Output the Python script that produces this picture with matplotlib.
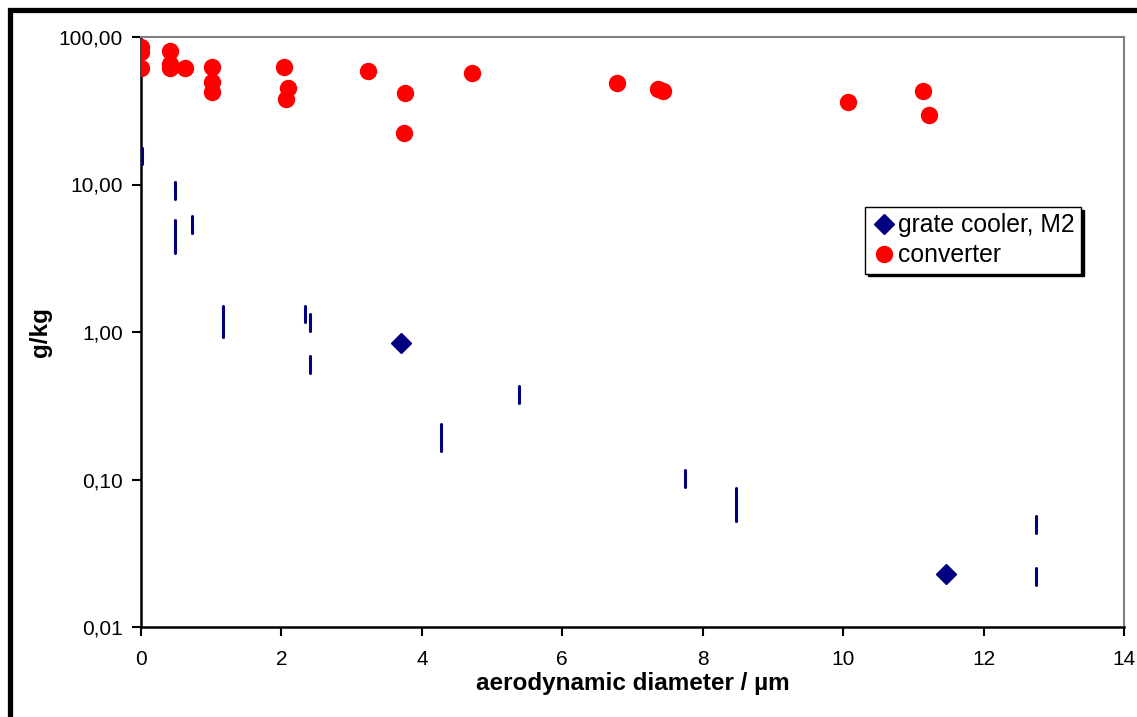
import numpy as np
import matplotlib
matplotlib.use('Agg')
from matplotlib import pyplot as plt
from matplotlib.ticker import FuncFormatter, NullLocator
from matplotlib.patches import Rectangle

plt.rcParams['font.family'] = ['Liberation Sans', 'DejaVu Sans']

# converter (red circles)
conv_x = [0.0, 0.0, 0.0, 0.41, 0.41, 0.41, 0.62, 1.01, 1.01, 1.01,
          2.03, 2.10, 2.07, 3.23, 3.76, 3.74, 4.71, 6.78, 7.36, 7.44,
          10.07, 11.14, 11.22]
conv_y = [86, 79.5, 62, 80.7, 65.6, 61.6, 61.4, 62.9, 49.5, 42.6,
          62.4, 44.9, 37.8, 58.8, 41.5, 22.2, 56.8, 48.5, 44.4, 42.9,
          36.1, 43.0, 29.4]

# grate cooler, M2 (diamonds)
grate_x = [3.70, 11.47]
grate_y = [0.838, 0.0229]

# grate cooler ranges drawn as short vertical bars
bar_x = [0.01, 0.49, 0.49, 0.72, 1.17, 2.34, 2.40, 2.40, 4.27, 5.39,
         7.75, 8.47, 12.75, 12.75]
bar_hi = [17.7, 10.4, 5.74, 6.11, 1.50, 1.50, 1.32, 0.687, 0.238, 0.431,
          0.116, 0.0871, 0.0566, 0.0252]
bar_lo = [13.8, 7.97, 3.45, 4.71, 0.93, 1.16, 1.02, 0.530, 0.157, 0.332,
          0.0893, 0.0524, 0.0434, 0.0193]

navy = '#000080'

fig = plt.figure(figsize=(11.37, 7.17), dpi=100)
ax = fig.add_axes([141/1137, 1 - 627/717, (1124-141)/1137, (627-37)/717])

ax.vlines(bar_x, bar_lo, bar_hi, colors=navy, linewidth=2.2, capstyle='round', zorder=3)
ax.plot(grate_x, grate_y, 'D', color=navy, markersize=10.5, label='grate cooler, M2', zorder=4)
ax.plot(conv_x, conv_y, 'o', color='#ff0000', markersize=11.5, label='converter', zorder=4)

ax.set_yscale('log')
ax.set_ylim(0.01, 100)
ax.set_xlim(0, 14)
ax.set_xticks(range(0, 15, 2))
ax.set_yticks([0.01, 0.1, 1, 10, 100])
ax.yaxis.set_minor_locator(NullLocator())
ax.yaxis.set_major_formatter(FuncFormatter(lambda v, p: ('%.2f' % v).replace('.', ',')))

ax.tick_params(axis='both', labelsize=15, length=6.5, width=1.5, color='black')
ax.tick_params(axis='x', pad=10)
ax.tick_params(axis='y', pad=6.5)

for s in ['left', 'bottom']:
    ax.spines[s].set_color('black')
    ax.spines[s].set_linewidth(1.8)
for s in ['top', 'right']:
    ax.spines[s].set_color('#808080')
    ax.spines[s].set_linewidth(1.5)

ax.set_xlabel('aerodynamic diameter / µm', fontsize=17.5, fontweight='bold', labelpad=2)
ax.set_ylabel('g/kg', fontsize=17.5, fontweight='bold', labelpad=5)

leg = ax.legend(loc='upper left', bbox_to_anchor=(865/1137, 1 - 207/717),
                bbox_transform=fig.transFigure, fontsize=17.8, frameon=True,
                fancybox=False, shadow={'color': 'black', 'alpha': 1},
                handletextpad=0.1, handlelength=1.0, borderpad=0.25,
                labelspacing=0.25, borderaxespad=0)
leg.get_frame().set_edgecolor('black')
leg.get_frame().set_linewidth(1.0)

# black border round the figure
fig.patches.append(Rectangle((10/1137, -0.2), 1.2, 1.2 - 10/717,
                             transform=fig.transFigure, fill=False,
                             edgecolor='black', linewidth=3.8))

fig.savefig('out.png', dpi=100)
